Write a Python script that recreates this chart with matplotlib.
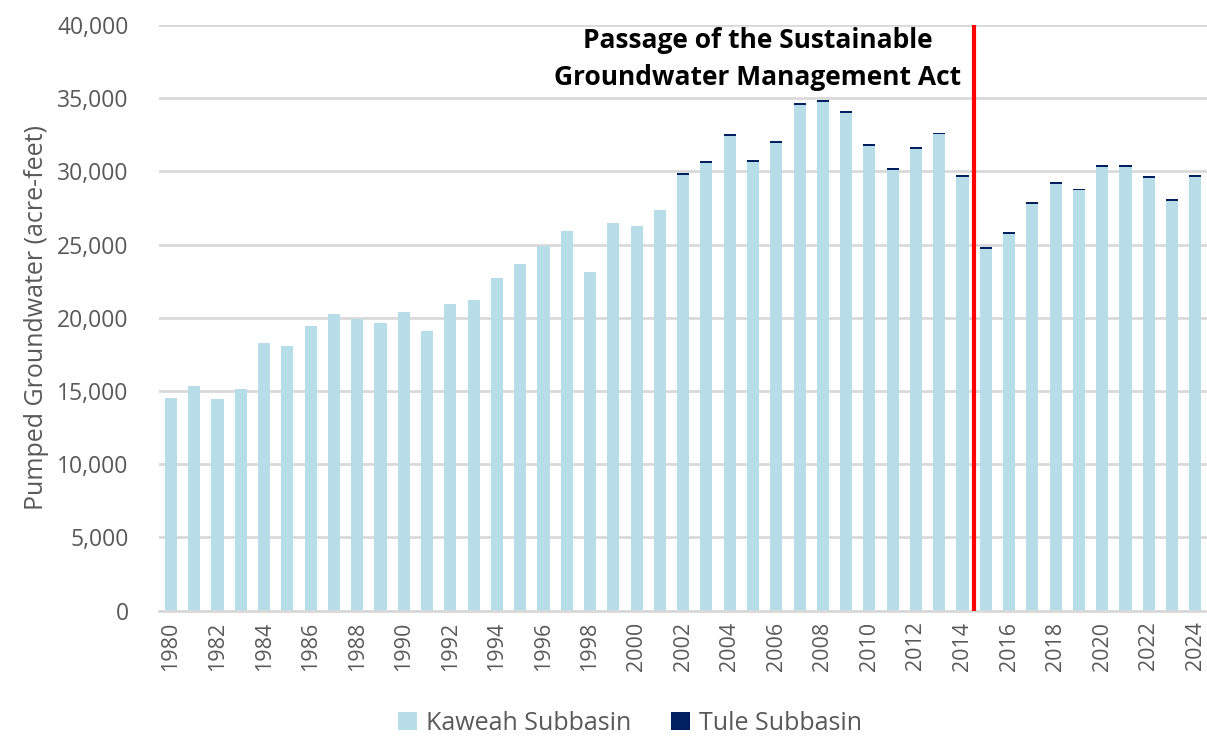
import matplotlib
matplotlib.use("Agg")
import matplotlib.pyplot as plt
from matplotlib.ticker import FuncFormatter, MultipleLocator
import numpy as np

years = list(range(1980, 2025))
kaweah = [14550, 15350, 14450, 15150, 18300, 18050, 19450, 20250, 19900, 19650,
          20400, 19100, 20950, 21200, 22700, 23680, 24900, 25950, 23150, 26480,
          26300, 27350, 29780, 30580, 32430, 30650, 31970, 34530, 34770, 34000,
          31720, 30120, 31540, 32520, 29600, 24700, 25750, 27760, 29170, 28710,
          30310, 30310, 29550, 28010, 29620]
tule = [0] * 22 + [120] * 23
sgma_position = 34.5
annotation = "Passage of the Sustainable\nGroundwater Management Act"

W, H = 1207, 736
fig = plt.figure(figsize=(W / 100, H / 100), dpi=100)
left_px, right_px, top_px, bottom_px = 159.3, 1207, 25, 610.5
ax = fig.add_axes([left_px / W, 1 - bottom_px / H, (right_px - left_px) / W, (bottom_px - top_px) / H])

font = "Open Sans"
tick_color = "#595959"
x = np.arange(len(years))
ax.bar(x, kaweah, width=0.52, color="#B7DDE8", label="Kaweah Subbasin", zorder=2)
ax.bar(x, tule, width=0.52, bottom=kaweah, color="#002060", label="Tule Subbasin", zorder=2)

ax.set_xlim(-0.5, len(years) - 0.5)
ax.set_ylim(0, 40000)
ax.yaxis.set_major_locator(MultipleLocator(5000))
ax.yaxis.set_major_formatter(FuncFormatter(lambda v, p: f"{int(v):,}"))
ax.grid(axis="y", color="#D9D9D9", linewidth=2, zorder=0)
ax.set_axisbelow(True)
for s in ["top", "right", "left"]:
    ax.spines[s].set_visible(False)
ax.spines["bottom"].set_color("#D9D9D9")
ax.spines["bottom"].set_linewidth(2)

ax.set_xticks(x[::2])
ax.set_xticklabels([str(y) for y in years[::2]], rotation=90, fontsize=15.5,
                   color=tick_color, family=font)
ax.tick_params(axis="x", length=0, pad=8)
ax.tick_params(axis="y", length=0, pad=22, labelsize=16.5, labelcolor=tick_color)
for lbl in ax.get_yticklabels():
    lbl.set_family(font)

ax.set_ylabel("Pumped Groundwater (acre-feet)", fontsize=18, color=tick_color,
              family=font, labelpad=6)

ax.axvline(sgma_position, color="#FF0000", linewidth=3, zorder=3)
ax.text(25.2, 39850, annotation, ha="center", va="top", fontsize=19,
        fontweight="bold", family=font, linespacing=1.45, zorder=4)

leg = fig.legend(loc="lower center", bbox_to_anchor=(0.522, -0.03), ncol=2,
                 frameon=False, handlelength=0.75, handleheight=0.75,
                 columnspacing=1.6, handletextpad=0.35,
                 prop={"family": font, "size": 18})
for t in leg.get_texts():
    t.set_color(tick_color)

fig.savefig("out.png", dpi=100)
